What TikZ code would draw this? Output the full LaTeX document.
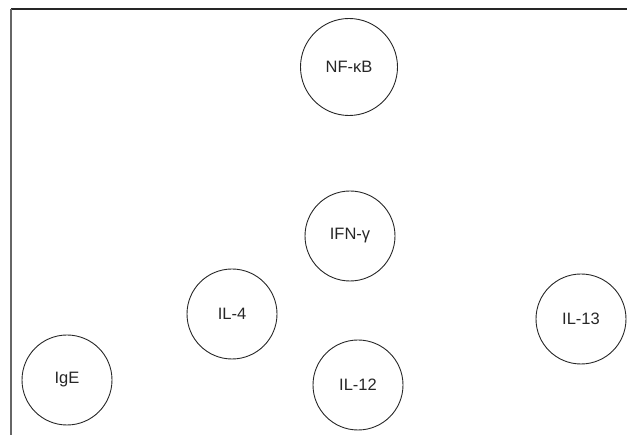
\documentclass[tikz,border=0pt]{standalone}
\usepackage{fontspec}
\setmainfont{Liberation Sans}
\begin{document}
\begin{tikzpicture}[x=1pt,y=-1pt,
  factor/.style={circle,draw=black!85,line width=0.9pt,minimum size=90pt,inner sep=0pt,
                 font=\fontsize{16.5}{19}\selectfont,text=black!85},
  frame/.style={line width=1.4pt}]
\useasboundingbox (0,0) rectangle (627,435);
% open frame: top and left edges only
\coordinate (tl) at (11,9);
\coordinate (tr) at (627,9);
\coordinate (bl) at (11,435);
\draw[frame,draw=black!85] (tl) -- (tr);
\draw[frame,draw=black!60] (tl) -- (bl);
% factors
\node[factor,minimum size=97pt] (nfkb) at (349,67) {NF-κB};
\node[factor] (ifng) at (350,236) {IFN-γ};
\node[factor] (il4)  at (232,314) {IL-4};
\node[factor] (il13) at (581,319) {IL-13};
\node[factor] (il12) at (358,385) {IL-12};
\node[factor] (ige)  at (67,380)  {IgE};
\end{tikzpicture}
\end{document}
